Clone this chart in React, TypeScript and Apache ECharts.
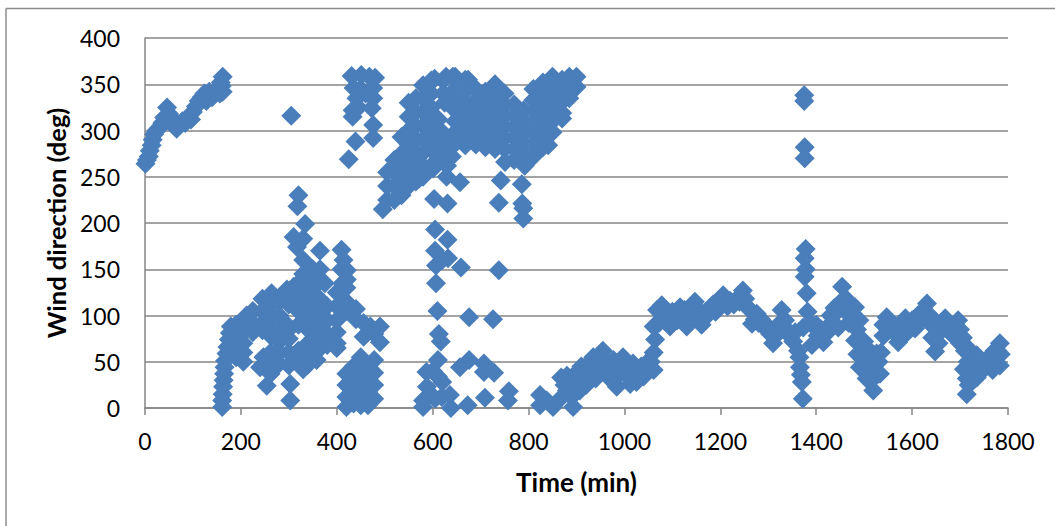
import React, { useEffect, useRef } from "react";
import * as echarts from "echarts";

type P = [number, number];

const xTicks = { min: 0, max: 1800, step: 200 };
const yTicks = { min: 0, max: 400, step: 50 };
const xTitle = "Time (min)";
const yTitle = "Wind direction (deg)";

const earlyRise: P[] = [
  [1,264],[4,268],[8,272],[10,278],[14,284],[16,290],[19,296],[24,300],[30,303],[36,308],[40,314],[46,325],[50,318],[55,314],
  [60,308],[66,302],[72,306],[78,310],[84,308],[90,314],[96,312],[100,320],[106,326],[112,332],[118,336],[124,340],[128,332],
  [134,342],[140,336],[146,340],[150,344],[156,340],[160,348],[162,358],[158,352],[162,342],
];
const isolatedHigh: P[] = [
  [305,316],[431,359],[451,360],[480,357],[468,358],[435,346],[441,335],[476,346],[476,335],[433,322],[433,315],[473,324],
  [450,345],[460,340],[445,325],[476,306],[476,292],[439,288],[425,269],[1375,338],[1375,332],[1376,282],[1376,270],
];
const risingBand: P[] = [
  [496,215],[505,225],[505,240],[505,255],[520,225],[520,240],[520,255],[520,268],[535,230],[535,245],[535,260],[535,275],[535,293],
  [550,240],[550,255],[550,270],[550,285],[550,300],[550,315],[550,330],[565,245],[565,260],[565,275],[565,290],[565,305],[565,320],
  [565,335],[580,250],[580,262],[580,276],[580,290],[580,305],[580,320],[580,335],[580,349],[597,262],[597,280],[597,296],[597,310],
  [597,325],[597,340],[597,354],[612,270],[612,285],[612,300],[604,356],[622,354],[629,270],[629,250],[601,259],[572,248],
  [622,340],[625,330],[620,298],[628,290],[625,282],[640,272],[630,262],[612,312],
];
const upperMass: P[] = [
  [647,358],[647,345],[647,333],[647,322],[647,310],[647,298],[647,286],[668,355],[668,343],[668,330],[668,318],[668,306],[668,294],[668,284],
  [690,345],[690,333],[690,321],[690,309],[690,297],[690,285],[710,342],[710,330],[710,318],[710,306],[710,294],[710,282],
  [730,350],[730,338],[730,326],[730,314],[730,302],[730,290],[730,280],[750,340],[750,328],[750,316],[750,304],[750,292],[750,280],[751,266],
  [770,328],[770,316],[770,304],[770,292],[770,280],[770,268],[790,322],[790,310],[790,298],[790,286],[790,274],[792,262],
  [810,345],[810,333],[810,321],[810,309],[810,297],[810,285],[810,272],[830,352],[830,340],[830,328],[830,316],[830,304],[830,292],[830,282],
  [850,358],[850,346],[850,334],[850,322],[850,310],[850,298],[841,284],[870,355],[870,343],[870,331],[870,319],[870,313],
  [885,358],[885,346],[885,335],[900,358],[900,347],[628,358],[642,358],[674,355],
];
const upperStrays: P[] = [
  [742,246],[786,242],[738,222],[787,221],[789,216],[789,205],[657,244],[603,226],[631,221],
];
const midScatter: P[] = [
  [605,193],[631,182],[605,170],[632,162],[607,154],[620,160],[659,152],[738,149],[607,135],[610,105],[676,98],[726,96],[613,80],
  [617,72],[611,52],[587,39],[611,34],[588,23],[676,52],[657,44],[707,48],[707,39],[728,38],[759,18],[757,8],[709,11],[673,3],
  [638,0],[636,14],[619,12],[580,1],[580,8],[605,10],[600,40],[620,28],[598,14],
];
const leftColumn: P[] = [
  [161,1],[161,8],[162,15],[163,23],[164,30],[165,37],[166,44],[167,51],[170,59],[172,66],[175,74],[177,81],[179,88],
];
const leftMass: P[] = [
  [190,90],[190,78],[190,66],[190,55],[205,95],[205,82],[205,70],[205,60],[205,50],[225,105],[225,92],[225,82],[212,100],
  [245,118],[245,105],[245,92],[245,84],[264,124],[262,112],[262,100],[262,88],[262,78],[262,60],[262,48],[262,37],[254,24],[240,44],[247,55],
  [280,115],[280,100],[280,85],[280,72],[280,60],[280,48],[300,125],[300,112],[296,90],[300,85],[300,75],[300,60],[300,46],[303,26],[303,8],
  [320,135],[320,120],[320,105],[320,90],[320,62],[320,50],[330,42],[340,130],[340,115],[340,100],[340,85],[340,70],[340,58],[340,47],
  [360,135],[360,120],[360,105],[360,90],[360,75],[360,62],[358,52],[380,110],[380,95],[380,80],[380,68],
  [400,125],[400,110],[400,95],[400,82],[400,70],[400,65],[420,130],[420,115],[420,105],[440,107],[440,96],[456,92],[456,77],
  [490,88],[490,71],[421,139],[421,149],[414,160],[410,171],[410,150],[412,135],[365,170],[365,150],[375,135],[330,160],[340,145],[350,150],[330,145],
  [317,174],[310,185],[334,199],[330,183],[320,230],[318,218],[310,131],[296,128],[470,88],[478,80],
];
const lowColumns: P[] = [
  [420,37],[420,25],[420,12],[420,1],[435,45],[435,30],[435,18],[435,5],[450,55],[450,40],[450,28],[450,14],[450,3],
  [465,45],[465,30],[465,18],[465,3],[478,52],[478,38],[478,25],[478,10],
];
const lateRiseA: P[] = [
  [824,14],[824,3],[838,8],[851,1],[866,10],[880,35],[880,19],[893,1],[900,25],[907,19],[914,30],[925,38],[935,55],[945,50],[955,62],
  [935,41],[966,48],[977,52],[997,55],[984,23],[992,38],[1012,26],[1020,38],[1030,32],[1040,34],[1050,42],[1061,41],[1061,60],[1064,74],
  [868,33],[875,25],[890,12],[900,38],[910,45],[920,25],[925,48],[940,32],[950,42],[960,50],[965,34],[975,40],[985,45],[1000,42],
  [1005,35],[1018,48],[1025,28],[1035,45],[1045,48],[1055,50],
];
const plateau: P[] = [
  [1061,88],[1068,106],[1078,111],[1085,100],[1095,88],[1105,98],[1116,109],[1130,88],[1138,100],[1147,115],[1161,90],[1172,102],[1185,112],
  [1195,115],[1206,122],[1220,116],[1235,118],[1247,127],[1255,110],[1266,91],[1276,102],[1285,96],[1298,84],[1310,70],[1318,88],[1328,106],
  [1340,84],[1352,72],[1362,62],[1072,92],[1082,98],[1090,104],[1100,104],[1110,95],[1120,98],[1125,106],[1135,100],[1142,105],[1150,100],
  [1158,104],[1165,96],[1178,108],[1190,104],[1200,110],[1215,110],[1228,112],[1240,115],[1252,118],[1262,106],[1272,96],[1280,92],
  [1292,92],[1304,80],[1315,78],[1325,92],[1335,95],[1345,78],[1356,82],
];
const dipColumn: P[] = [
  [1366,44],[1370,28],[1372,10],[1368,36],[1365,55],[1378,172],[1376,162],[1378,150],[1376,142],[1380,124],[1382,104],[1389,91],[1391,68],[1373,87],
];
const lateWiggle: P[] = [
  [1403,78],[1415,71],[1428,90],[1446,87],[1454,131],[1462,118],[1470,112],[1481,109],[1481,73],[1486,58],[1491,44],[1505,32],[1519,19],
  [1526,59],[1533,37],[1540,78],[1547,98],[1558,85],[1571,71],[1586,97],[1596,90],[1606,86],[1618,95],[1631,113],[1640,90],[1648,61],
  [1658,82],[1669,97],[1682,80],[1696,95],[1706,76],[1714,66],[1708,42],[1714,15],[1720,30],[1735,57],[1735,33],[1750,48],[1762,56],
  [1768,41],[1775,50],[1783,70],[1785,58],[1783,46],[1400,90],[1410,85],[1420,80],[1430,100],[1438,108],[1445,105],[1452,115],[1460,105],
  [1468,92],[1475,95],[1490,95],[1490,75],[1497,60],[1500,72],[1485,85],[1510,50],[1515,60],[1505,45],[1520,40],[1530,50],[1525,35],[1535,60],
  [1540,90],[1550,85],[1555,92],[1565,80],[1575,86],[1590,82],[1600,95],[1612,100],[1622,105],[1637,100],[1645,95],[1642,76],[1655,70],
  [1660,92],[1675,88],[1688,90],[1700,85],[1700,70],[1710,62],[1716,50],[1714,32],[1718,25],[1725,45],[1730,55],[1745,40],[1740,50],
  [1755,45],[1765,55],[1772,62],[1778,62],
];

const groups = [
  earlyRise, isolatedHigh, risingBand, upperMass, upperStrays, midScatter, leftColumn,
  leftMass, lowColumns, lateRiseA, plateau, dipColumn, lateWiggle,
];
const points: P[] = groups.flat();

export default function App() {
  const ref = useRef<HTMLDivElement>(null);
  useEffect(() => {
    document.body.style.margin = "0";
    const chart = echarts.init(ref.current!, undefined, { renderer: "svg" });
    const font = "Lato, Carlito, 'Open Sans', sans-serif";
    const frame = { color: "#8c8c8c", width: 1.5 };
    chart.setOption({
      animation: false,
      backgroundColor: "#ffffff",
      textStyle: { fontFamily: font },
      graphic: [
        { type: "line", silent: true, z: -1, shape: { x1: 6, y1: 8.5, x2: 1055, y2: 8.5 }, style: { stroke: frame.color, lineWidth: frame.width } },
        { type: "line", silent: true, z: -1, shape: { x1: 6, y1: 8.5, x2: 6, y2: 526 }, style: { stroke: frame.color, lineWidth: frame.width } },
      ],
      grid: { left: 145, top: 38, width: 863, height: 370, containLabel: false },
      xAxis: {
        type: "value",
        min: xTicks.min,
        max: xTicks.max,
        interval: xTicks.step,
        name: xTitle,
        nameLocation: "middle",
        nameGap: 61,
        nameTextStyle: { color: "#000", fontSize: 26, fontWeight: "bold", fontFamily: font },
        axisLine: { show: true, lineStyle: { color: "#868686", width: 1.5 } },
        axisTick: { show: true, length: 7, lineStyle: { color: "#868686", width: 1.5 } },
        axisLabel: { color: "#000", fontSize: 23, margin: 21, fontFamily: font, formatter: (v: number) => String(v) },
        splitLine: { show: false },
      },
      yAxis: {
        type: "value",
        min: yTicks.min,
        max: yTicks.max,
        interval: yTicks.step,
        name: yTitle,
        nameLocation: "middle",
        nameGap: 76,
        nameTextStyle: { color: "#000", fontSize: 25.5, fontWeight: "bold", fontFamily: font },
        axisLine: { show: true, lineStyle: { color: "#868686", width: 1.5 } },
        axisTick: { show: false },
        axisLabel: { color: "#000", fontSize: 23, margin: 25, fontFamily: font, formatter: (v: number) => String(v) },
        splitLine: { show: true, lineStyle: { color: "#868686", width: 1.5 } },
      },
      series: [
        {
          type: "scatter",
          data: points,
          symbol: "diamond",
          symbolSize: 20,
          itemStyle: { color: "#4a7ebb", opacity: 1 },
          clip: false,
        },
      ],
    });
    return () => chart.dispose();
  }, []);
  return <div ref={ref} style={{ width: 1055, height: 526 }} />;
}
